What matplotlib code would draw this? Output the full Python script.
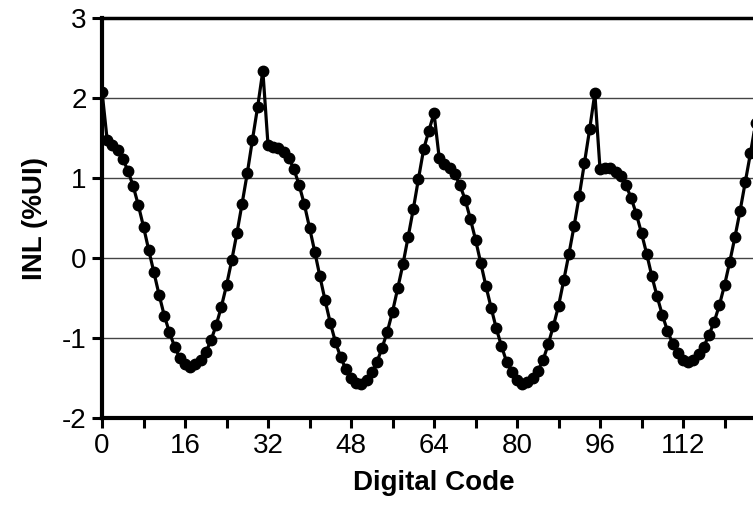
import matplotlib
matplotlib.use("Agg")
import matplotlib.pyplot as plt
import numpy as np
from matplotlib.ticker import MultipleLocator

# INL per digital code
inl = [2.08, 1.47, 1.41, 1.35, 1.24, 1.09, 0.90, 0.66, 0.39, 0.10,
       -0.18, -0.46, -0.72, -0.93, -1.11, -1.25, -1.33, -1.36, -1.33, -1.27,
       -1.18, -1.03, -0.84, -0.61, -0.34, -0.03, 0.31, 0.68, 1.06, 1.48,
       1.89, 2.34, 1.41, 1.39, 1.37, 1.33, 1.25, 1.11, 0.91, 0.67,
       0.38, 0.08, -0.23, -0.53, -0.81, -1.05, -1.24, -1.39, -1.50, -1.56,
       -1.57, -1.53, -1.43, -1.30, -1.12, -0.92, -0.67, -0.38, -0.08, 0.26,
       0.61, 0.99, 1.36, 1.59, 1.81, 1.25, 1.18, 1.13, 1.05, 0.91,
       0.73, 0.49, 0.23, -0.06, -0.35, -0.62, -0.88, -1.10, -1.30, -1.43,
       -1.53, -1.57, -1.55, -1.50, -1.41, -1.28, -1.08, -0.85, -0.60, -0.28,
       0.05, 0.40, 0.78, 1.19, 1.61, 2.06, 1.11, 1.13, 1.12, 1.07,
       1.03, 0.91, 0.75, 0.55, 0.31, 0.05, -0.23, -0.48, -0.71, -0.91,
       -1.07, -1.19, -1.28, -1.30, -1.28, -1.20, -1.11, -0.96, -0.80, -0.59,
       -0.34, -0.05, 0.26, 0.59, 0.95, 1.31, 1.69]
codes = np.arange(len(inl))

xtick_vals = [0, 16, 32, 48, 64, 80, 96, 112]
ytick_vals = [-2, -1, 0, 1, 2, 3]

plt.rcParams['font.family'] = ['Liberation Sans', 'DejaVu Sans']
plt.rcParams['axes.unicode_minus'] = False

fig = plt.figure(figsize=(7.53, 5.16), dpi=100)
# right edge of the plot area runs past the picture, as in the reference
ax = fig.add_axes([0.1355, 0.1899, 0.8818, 0.7752])

for yv in [-1, 0, 1, 2]:
    ax.axhline(yv, color="#444444", lw=1.0, zorder=1)

ax.plot(codes, inl, color="black", lw=2.3, marker="o", markersize=7.5, zorder=3)

ax.set_xlim(0, 128)
ax.set_ylim(-2, 3)
ax.set_xticks(xtick_vals)
ax.xaxis.set_minor_locator(MultipleLocator(8))
ax.set_yticks(ytick_vals)
ax.tick_params(axis="both", which="both", direction="out", length=7, width=2.2,
               labelsize=20, pad=4)

for s in ["left", "bottom"]:
    ax.spines[s].set_linewidth(3)
ax.spines["top"].set_linewidth(2.5)
ax.spines["right"].set_linewidth(2.5)

ax.set_xlabel("Digital Code", fontsize=20, fontweight="bold", labelpad=8)
ax.set_ylabel("INL (%UI)", fontsize=20, fontweight="bold", labelpad=10)

plt.savefig("out.png", dpi=100)
